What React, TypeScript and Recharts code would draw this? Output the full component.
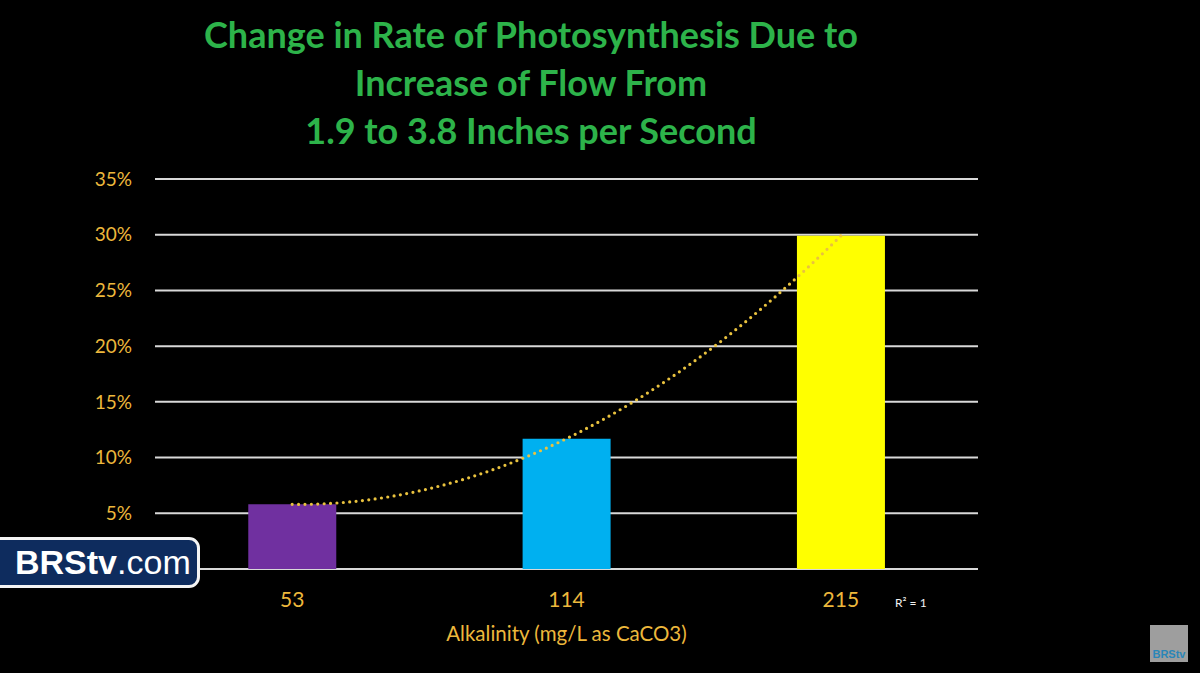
import * as React from "react";
import { ComposedChart, Bar, Line, XAxis, YAxis, CartesianGrid, Cell, Label } from "recharts";

// alkalinity levels (mg/L as CaCO3)
const alkalinity: string[] = ["53", "114", "215"];
// change in photosynthesis rate at each level
const rateChange: number[] = [0.058, 0.117, 0.299];
const barColours: string[] = ["#7030A0", "#00B0F0", "#FFFF00"];
const yTicks: number[] = [0, 0.05, 0.1, 0.15, 0.2, 0.25, 0.3, 0.35];
const titleLines: string[] = [
  "Change in Rate of Photosynthesis Due to",
  "Increase of Flow From",
  "1.9 to 3.8 Inches per Second"
];

const gold = "#EDB83C";
const font = "Lato, 'Open Sans', sans-serif";

// polynomial trendline: exact fit through every point (order n-1)
const polyTrend = (context: any) => {
  let pts: [number, number][] = [];
  return {
    areaStart() {},
    areaEnd() {},
    lineStart() {
      pts = [];
    },
    point(x: number, y: number) {
      pts.push([+x, +y]);
    },
    lineEnd() {
      const n = pts.length;
      if (!n) return;
      const f = (x: number) =>
        pts.reduce(
          (s, [xi, yi], i) =>
            s + yi * pts.reduce((p, [xj], j) => (j === i ? p : (p * (x - xj)) / (xi - xj)), 1),
          0
        );
      const x0 = pts[0][0];
      const x1 = pts[n - 1][0];
      const steps = 120;
      for (let k = 0; k <= steps; k++) {
        const x = x0 + ((x1 - x0) * k) / steps;
        if (k === 0) context.moveTo(x, f(x));
        else context.lineTo(x, f(x));
      }
    }
  };
};

const data = alkalinity.map((a, i) => ({ alk: a, rate: rateChange[i] }));

export default function App() {
  return (
    <div
      style={{
        position: "fixed",
        left: 0,
        top: 0,
        width: 1200,
        height: 673,
        background: "#000",
        overflow: "hidden",
        fontFamily: font
      }}
    >
      <div
        style={{
          position: "absolute",
          left: 0,
          top: 10,
          width: 1062,
          textAlign: "center",
          color: "#2DB34A",
          fontWeight: 700,
          fontSize: 36,
          lineHeight: "48px"
        }}
      >
        {titleLines.map(t => (
          <div key={t}>{t}</div>
        ))}
      </div>

      <ComposedChart
        width={1200}
        height={673}
        data={data}
        margin={{ top: 179, right: 222, bottom: 29, left: 95 }}
        barCategoryGap="34%"
        style={{ position: "absolute", left: 0, top: 0 }}
      >
        <CartesianGrid vertical={false} stroke="#D9D9D9" strokeWidth={2} />
        <XAxis
          dataKey="alk"
          axisLine={false}
          tickLine={false}
          tickSize={0}
          tickMargin={23}
          height={75}
          tick={{ fill: gold, fontSize: 21, fontFamily: font }}
        >
          <Label
            value="Alkalinity (mg/L as CaCO3)"
            position="insideBottom"
            offset={3}
            fill={gold}
            fontSize={20.5}
            fontFamily={font}
          />
        </XAxis>
        <YAxis
          width={60}
          domain={[0, 0.35]}
          ticks={yTicks}
          axisLine={false}
          tickLine={false}
          tickSize={0}
          tickMargin={23}
          tickFormatter={(v: number) => (v === 0 ? "" : `${Math.round(v * 100)}%`)}
          tick={{ fill: gold, fontSize: 19, fontFamily: font }}
        />
        <Bar dataKey="rate" isAnimationActive={false}>
          {data.map((entry, index) => (
            <Cell key={`cell-${index}`} fill={barColours[index]} />
          ))}
        </Bar>
        <Line
          dataKey="rate"
          type={polyTrend as any}
          stroke="#E9C23E"
          strokeWidth={3.2}
          strokeDasharray="0 6.4"
          strokeLinecap="round"
          dot={false}
          activeDot={false}
          isAnimationActive={false}
        />
      </ComposedChart>

      <div
        style={{
          position: "absolute",
          left: 895,
          top: 595,
          color: "#F2F2F2",
          fontSize: 12,
          fontFamily: font
        }}
      >
        R² = 1
      </div>

      <div
        style={{
          position: "absolute",
          left: -14,
          top: 537,
          width: 214,
          height: 51,
          boxSizing: "border-box",
          background: "#0E2C5E",
          border: "3px solid #F4F4F4",
          borderRadius: 11,
          color: "#fff",
          fontFamily: "'Liberation Sans', Arial, sans-serif",
          fontSize: 34,
          lineHeight: "45px",
          paddingLeft: 26
        }}
      >
        <span style={{ fontWeight: 700 }}>BRStv</span>
        <span>.com</span>
      </div>

      <div
        style={{
          position: "absolute",
          left: 1150,
          top: 625,
          width: 38,
          height: 37,
          background: "#9E9E9E",
          color: "#2A86B8",
          fontFamily: "'Liberation Sans', Arial, sans-serif",
          fontSize: 11,
          fontWeight: 700,
          lineHeight: "11px",
          display: "flex",
          alignItems: "flex-end",
          justifyContent: "center",
          paddingBottom: 2,
          boxSizing: "border-box"
        }}
      >
        BRStv
      </div>
    </div>
  );
}
